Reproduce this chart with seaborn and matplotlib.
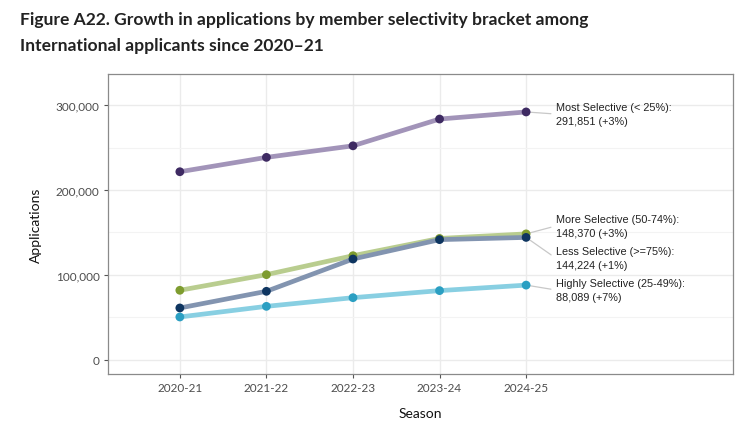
import matplotlib
matplotlib.use("Agg")
import matplotlib.pyplot as plt
from matplotlib.ticker import FuncFormatter, MultipleLocator
import seaborn as sns
import pandas as pd

seasons = ["2020-21", "2021-22", "2022-23", "2023-24", "2024-25"]
most_selective = [221500, 238400, 252000, 283500, 291851]
more_selective = [82000, 100400, 122700, 143000, 148370]
less_selective = [61200, 80800, 118800, 141600, 144224]
highly_selective = [50600, 63100, 73300, 81600, 88089]

series_names = ["Most Selective", "More Selective", "Less Selective", "Highly Selective"]
series_values = [most_selective, more_selective, less_selective, highly_selective]
end_labels = [
    "Most Selective (< 25%):\n291,851 (+3%)",
    "More Selective (50-74%):\n148,370 (+3%)",
    "Less Selective (>=75%):\n144,224 (+1%)",
    "Highly Selective (25-49%):\n88,089 (+7%)",
]
label_y = [289400, 157600, 120000, 82400]

line_colors = ["#a294b9", "#b9cd8f", "#8294b0", "#88cfe2"]
point_colors = ["#3e2a62", "#7e9c2f", "#0e3560", "#2b9fc2"]

rows = []
for name, vals in zip(series_names, series_values):
    for i, (s, v) in enumerate(zip(seasons, vals)):
        rows.append({"Season": s, "idx": i, "Applications": v, "Bracket": name})
df = pd.DataFrame(rows)

sns.set_theme(style="white")
plt.rcParams["font.family"] = ["Lato", "DejaVu Sans"]

fig = plt.figure(figsize=(7.4, 4.27), dpi=100)
ax = fig.add_axes([108 / 740, (427 - 375) / 427, (733 - 108) / 740, (375 - 75) / 427])

sns.lineplot(data=df, x="idx", y="Applications", hue="Bracket", hue_order=series_names,
             palette=dict(zip(series_names, line_colors)), linewidth=3.4, legend=False,
             ax=ax, zorder=3)
sns.scatterplot(data=df, x="idx", y="Applications", hue="Bracket", hue_order=series_names,
                palette=dict(zip(series_names, point_colors)), s=40, edgecolor="none",
                legend=False, ax=ax, zorder=4)

for name, vals, lab, ly in zip(series_names, series_values, end_labels, label_y):
    ax.annotate(lab, xy=(4, vals[-1]), xytext=(4.34, ly), textcoords="data",
                ha="left", va="center", fontsize=7.8, color="#222222",
                family=["Liberation Sans", "DejaVu Sans"], linespacing=1.5,
                arrowprops=dict(arrowstyle="-", color="#c8c8c8", lw=0.9,
                                shrinkA=1, shrinkB=3, relpos=(0, 0.5)))

ax.set_xlim(-0.83, 6.39)
ax.set_ylim(-16500, 336500)
ax.set_xticks(range(len(seasons)))
ax.set_xticklabels(seasons)
ax.yaxis.set_major_locator(MultipleLocator(100000))
ax.yaxis.set_minor_locator(MultipleLocator(50000))
ax.yaxis.set_major_formatter(FuncFormatter(lambda v, p: f"{int(v):,}"))

ax.grid(True, which="major", color="#ebebeb", linewidth=1.0, zorder=0)
ax.grid(True, which="minor", axis="y", color="#f3f3f3", linewidth=0.8, zorder=0)
ax.set_axisbelow(True)
for sp in ax.spines.values():
    sp.set_color("#8a8a8a")
    sp.set_linewidth(0.9)

ax.tick_params(axis="both", which="major", length=3, width=0.8, color="#555555",
               labelsize=8.5, labelcolor="#4d4d4d", pad=3, bottom=True, left=True)
ax.tick_params(axis="both", which="minor", length=0)
ax.set_xlabel("Season", fontsize=10, color="#111111", labelpad=10)
ax.set_ylabel("Applications", fontsize=10, color="#111111", labelpad=10)

fig.text(20 / 740, 1 - 20 / 427, "Figure A22. Growth in applications by member selectivity bracket among",
         fontsize=12.6, fontweight="bold", color="#222222", va="center", ha="left")
fig.text(20 / 740, 1 - 46 / 427, "International applicants since 2020\u201321",
         fontsize=12.6, fontweight="bold", color="#222222", va="center", ha="left")

fig.savefig("out.png", dpi=100, facecolor="white")
